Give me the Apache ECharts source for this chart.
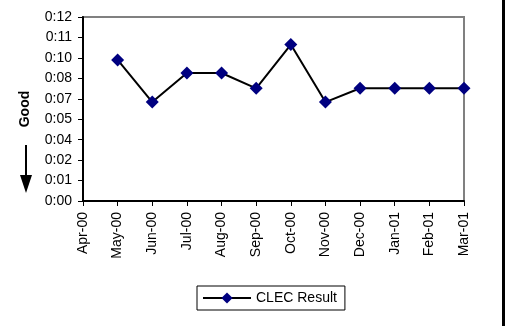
<!DOCTYPE html>
<html>
<head>
<meta charset="utf-8">
<script src="https://cdn.jsdelivr.net/npm/echarts@6/dist/echarts.min.js"></script>
<style>
  html, body { margin: 0; padding: 0; background: #fff; }
  #chart { width: 507px; height: 326px; }
</style>
</head>
<body>
<div id="chart"></div>
<script>
// months on the x axis
var months = ['Apr-00', 'May-00', 'Jun-00', 'Jul-00', 'Aug-00', 'Sep-00',
  'Oct-00', 'Nov-00', 'Dec-00', 'Jan-01', 'Feb-01', 'Mar-01'];
// CLEC result, minutes (no value for Apr-00)
var clecResult = [null, 9.2, 6.45, 8.35, 8.35, 7.35, 10.2, 6.45, 7.35, 7.35, 7.35, 7.35];
// y tick labels as printed on the original
var yTickLabels = ['0:00', '0:01', '0:02', '0:04', '0:05', '0:07', '0:08', '0:10', '0:11', '0:12'];
var yMax = 12;
var yStep = yMax / (yTickLabels.length - 1);

var chart = echarts.init(document.getElementById('chart'));
var font = 'Liberation Sans, Arial, sans-serif';

chart.setOption({
  animation: false,
  grid: {
    left: 83, top: 17, right: 43, bottom: 125,
    show: true,
    borderColor: '#808080',
    borderWidth: 2
  },
  xAxis: {
    type: 'category',
    data: months,
    boundaryGap: false,
    axisLine: { lineStyle: { color: '#000', width: 2 } },
    axisTick: { show: true, length: 5, lineStyle: { color: '#000' } },
    axisLabel: {
      rotate: 90, color: '#000', fontSize: 14, fontFamily: font,
      interval: 0, margin: 11
    },
    splitLine: { show: false }
  },
  yAxis: {
    type: 'value',
    min: 0,
    max: yMax,
    interval: yStep,
    axisLine: { show: true, lineStyle: { color: '#000', width: 2 } },
    axisTick: { show: true, length: 5, lineStyle: { color: '#000' } },
    axisLabel: {
      color: '#000', fontSize: 14, fontFamily: font, margin: 11,
      formatter: function (v) {
        return yTickLabels[Math.round(v / yStep)];
      }
    },
    splitLine: { show: false }
  },
  legend: {
    left: 197,
    top: 286,
    data: ['CLEC Result'],
    borderColor: '#000',
    borderWidth: 1,
    padding: [5, 8, 5, 5],
    itemWidth: 48,
    itemHeight: 14,
    itemGap: 4,
    textStyle: { color: '#000', fontSize: 14, fontFamily: font }
  },
  series: [{
    name: 'CLEC Result',
    type: 'line',
    data: clecResult,
    symbol: 'diamond',
    symbolSize: 13,
    lineStyle: { color: '#000', width: 2 },
    itemStyle: { color: '#000080', borderWidth: 0 }
  }],
  graphic: [
    {
      type: 'text',
      x: 25, y: 109,
      rotation: Math.PI / 2,
      style: {
        text: 'Good', fill: '#000', font: 'bold 14px ' + font,
        align: 'center', verticalAlign: 'middle'
      }
    },
    {
      type: 'line',
      shape: { x1: 26, y1: 145, x2: 26, y2: 178 },
      style: { stroke: '#000', lineWidth: 2 }
    },
    {
      type: 'polygon',
      shape: { points: [[20, 175], [32, 175], [26, 193]] },
      style: { fill: '#000' }
    },
    {
      type: 'rect',
      shape: { x: 502, y: 0, width: 3, height: 326 },
      style: { fill: '#000' }
    }
  ]
});
</script>
</body>
</html>
